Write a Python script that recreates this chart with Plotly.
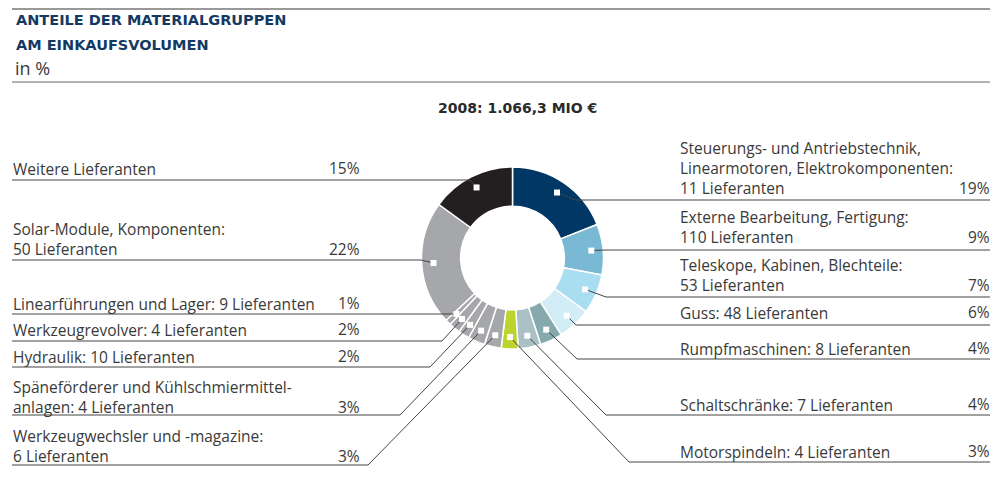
import math
import plotly.graph_objects as go

# ---------------- data ----------------
categories = [
    "Steuerungs- und Antriebstechnik,<br>Linearmotoren, Elektrokomponenten:<br>11 Lieferanten",
    "Externe Bearbeitung, Fertigung:<br>110 Lieferanten",
    "Teleskope, Kabinen, Blechteile:<br>53 Lieferanten",
    "Guss: 48 Lieferanten",
    "Rumpfmaschinen: 8 Lieferanten",
    "Schaltschränke: 7 Lieferanten",
    "Motorspindeln: 4 Lieferanten",
    "Werkzeugwechsler und -magazine:<br>6 Lieferanten",
    "Späneförderer und Kühlschmiermittel-<br>anlagen: 4 Lieferanten",
    "Hydraulik: 10 Lieferanten",
    "Werkzeugrevolver: 4 Lieferanten",
    "Linearführungen und Lager: 9 Lieferanten",
    "Solar-Module, Komponenten:<br>50 Lieferanten",
    "Weitere Lieferanten",
]
shares = [19, 9, 7, 6, 4, 4, 3, 3, 3, 2, 2, 1, 22, 15]
colors = ["#003764", "#7ab9d3", "#a9def0", "#d3edf6", "#86a9ae", "#a9c1c4",
          "#bdd42f", "#a6a7aa", "#a6a7aa", "#a6a7aa", "#a6a7aa", "#a6a7aa",
          "#a6a7aa", "#231f20"]
title_lines = ["ANTEILE DER MATERIALGRUPPEN", "AM EINKAUFSVOLUMEN"]
unit_text = "in %"
total_text = "2008: 1.066,3 MIO €"

# ---------------- layout constants (window pixel coordinates) ----------------
WIN_W, WIN_H = 998, 484
OFF = 8                       # default body margin of the html page
W, H = WIN_W - OFF, WIN_H - 2 * OFF   # avoid a vertical scrollbar
Y_MAX = OFF + H
CX, CY, R = 512.5, 258.0, 91.0
HOLE = 0.57
MR = 0.87 * R  # radius of white marker squares

# label placement per slice: side, text-centre y of first line, underline y, elbow x
side =      ["R", "R", "R", "R", "R", "R", "R", "L", "L", "L", "L", "L", "L", "L"]
text_y =    [146, 215, 263, 311, 347, 403, 450, 434, 385, 355, 328, 302, 227, 167]
line_y =    [200, 250, 297, 325, 359, 415, 462, 465, 415, 367, 341, 314, 260, 180]
elbow_x =   [575, 606, 606, 576, 577, 606, 629, 368, 400, 430, 442, 453, 421, 470]
LINE_GAP = 20.5
TEXT_COLOR = "#3a3a3a"
FONT = "Open Sans"
FS = 15.5


def px_to_paper_x(x):
    return (x - OFF) / W


def px_to_paper_y(y):
    return (Y_MAX - y) / H


fig = go.Figure()

fig.add_trace(go.Pie(
    values=shares, labels=[c.replace("<br>", " ") for c in categories],
    marker=dict(colors=colors, line=dict(color="white", width=1.5)),
    hole=HOLE, sort=False, direction="clockwise", rotation=0,
    textinfo="none", hoverinfo="label+percent", showlegend=False,
    domain=dict(x=[px_to_paper_x(CX - R), px_to_paper_x(CX + R)],
                y=[px_to_paper_y(CY + R), px_to_paper_y(CY - R)]),
))

# invisible helper trace so that the pixel-like axes exist
fig.add_trace(go.Scatter(x=[OFF, WIN_W], y=[OFF, Y_MAX], mode="markers",
                         marker=dict(opacity=0), hoverinfo="skip", showlegend=False))

shapes = []
annotations = []
cum = 0.0
for i, v in enumerate(shares):
    a = math.radians((cum + v / 2) / sum(shares) * 360)
    cum += v
    mx = CX + MR * math.sin(a)
    my = CY - MR * math.cos(a)
    ly = line_y[i]
    ex = elbow_x[i]
    end_x = 997 if side[i] == "R" else 12
    shapes.append(dict(type="path", xref="x", yref="y", layer="above",
                       path=f"M{mx:.1f},{my:.1f} L{ex},{ly} L{end_x},{ly}",
                       line=dict(color="#444444", width=1)))
    s = 3
    shapes.append(dict(type="rect", xref="x", yref="y", layer="above",
                       x0=mx - s, x1=mx + s, y0=my - s, y1=my + s,
                       fillcolor="white", line=dict(width=0)))
    lines = categories[i].split("<br>")
    tx = 679 if side[i] == "R" else 12
    pxr = 991 if side[i] == "R" else 361
    annotations.append(dict(x=tx, y=text_y[i] - 10, xref="x", yref="y", text=categories[i],
                            xanchor="left", yanchor="top", align="left", showarrow=False,
                            borderpad=0,
                            font=dict(family=FONT, size=FS, color=TEXT_COLOR)))
    last_y = text_y[i] + 1 + LINE_GAP * (len(lines) - 1)
    annotations.append(dict(x=pxr, y=last_y, xref="x", yref="y", text=f"{v}%",
                            xanchor="right", yanchor="middle", showarrow=False,
                            borderpad=0,
                            font=dict(family=FONT, size=FS, color=TEXT_COLOR)))

# header rules
shapes.append(dict(type="line", xref="x", yref="y", x0=12, x1=998, y0=9, y1=9,
                   line=dict(color="#777777", width=1.5)))
shapes.append(dict(type="line", xref="x", yref="y", x0=12, x1=998, y0=82, y1=82,
                   line=dict(color="#666666", width=1)))

for k, t in enumerate(title_lines):
    annotations.append(dict(x=14, y=20 + 25 * k, xref="x", yref="y", text=f"<b>{t}</b>",
                            xanchor="left", yanchor="middle", showarrow=False,
                            font=dict(family="DejaVu Sans", size=14.5, color="#133a63")))
annotations.append(dict(x=13, y=68, xref="x", yref="y", text=unit_text,
                        xanchor="left", yanchor="middle", showarrow=False,
                        font=dict(family=FONT, size=18, color=TEXT_COLOR)))
annotations.append(dict(x=517, y=108, xref="x", yref="y", text=f"<b>{total_text}</b>",
                        xanchor="center", yanchor="middle", showarrow=False,
                        font=dict(family="DejaVu Sans", size=14, color="#2a2a2a")))

fig.update_layout(
    width=W, height=H, margin=dict(l=0, r=0, t=0, b=0),
    paper_bgcolor="white", plot_bgcolor="white",
    xaxis=dict(range=[OFF, WIN_W], visible=False, fixedrange=True),
    yaxis=dict(range=[Y_MAX, OFF], visible=False, fixedrange=True),
    shapes=shapes, annotations=annotations,
)

fig.write_html("out.html")
